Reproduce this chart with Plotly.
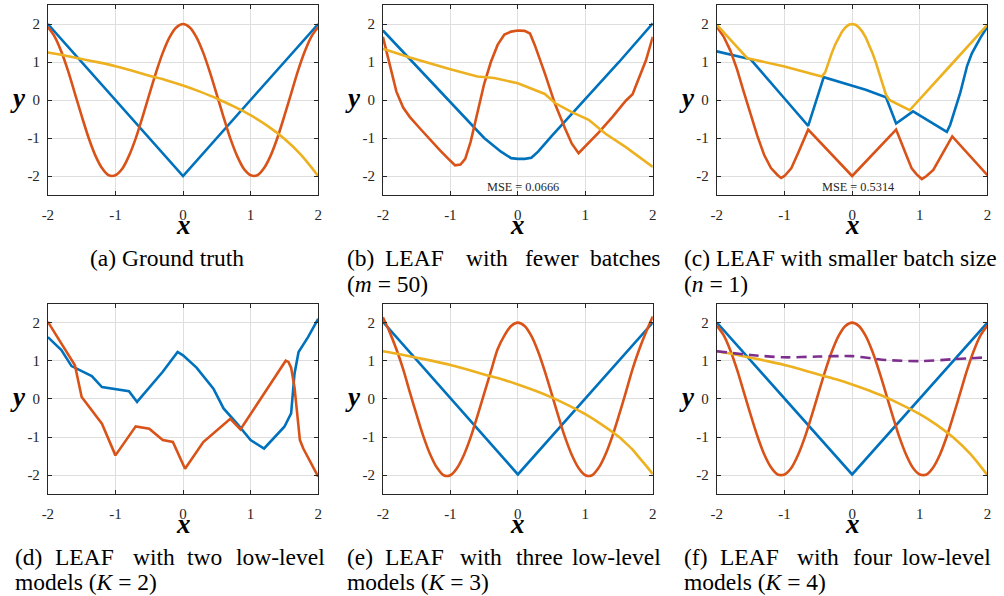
import plotly.graph_objects as go

W, H = 1004, 596
BLUE, ORANGE, YELLOW, PURPLE = "#0072BD", "#D95319", "#EDB120", "#7E2F8E"

# ---------------- data ----------------
# (a) ground truth
gt_blue_x = [-2, 0, 2]
gt_blue_y = [2.0, -2.0, 2.0]
gt_orange_x = [-2.0, -1.9, -1.8, -1.7, -1.6, -1.5, -1.4, -1.3, -1.2, -1.1, -1.0, -0.9, -0.8, -0.7, -0.6,
               -0.5, -0.4, -0.3, -0.2, -0.1, 0.0, 0.1, 0.2, 0.3, 0.4, 0.5, 0.6, 0.7, 0.8, 0.9, 1.0,
               1.1, 1.2, 1.3, 1.4, 1.5, 1.6, 1.7, 1.8, 1.9, 2.0]
gt_orange_y = [1.92, 1.67, 1.27, 0.76, 0.17, -0.42, -0.98, -1.45, -1.79, -1.98, -1.98, -1.81, -1.47, -1.01, -0.45,
               0.14, 0.72, 1.24, 1.65, 1.91, 2.00, 1.91, 1.65, 1.24, 0.72, 0.14, -0.45, -1.01, -1.47, -1.81, -1.98,
               -1.98, -1.79, -1.45, -0.98, -0.42, 0.17, 0.76, 1.27, 1.67, 1.92]
gt_yellow_x = [-2.0, -1.75, -1.5, -1.25, -1.0, -0.75, -0.5, -0.25, 0.0, 0.25, 0.5, 0.75, 1.0, 1.25, 1.5, 1.75, 2.0]
gt_yellow_y = [1.25, 1.17, 1.08, 0.99, 0.89, 0.77, 0.64, 0.52, 0.38, 0.22, 0.04, -0.17, -0.40, -0.68, -1.02, -1.45, -2.00]

# (b) fewer batches
b_blue_x = [-2.0, -1.5, -1.0, -0.5, -0.25, -0.1, 0.0, 0.1, 0.2, 0.3, 0.5, 1.0, 1.5, 2.0]
b_blue_y = [1.83, 0.88, -0.05, -1.0, -1.36, -1.53, -1.55, -1.55, -1.52, -1.36, -0.95, 0.02, 1.0, 2.02]
b_orange_x = [-2.0, -1.9, -1.8, -1.7, -1.6, -1.45, -1.3, -1.15, -1.0, -0.93, -0.85, -0.78, -0.7, -0.6, -0.5,
              -0.4, -0.3, -0.2, -0.1, 0.0, 0.1, 0.18, 0.25, 0.4, 0.55, 0.7, 0.8, 0.9, 1.0, 1.2, 1.4, 1.6,
              1.7, 1.8, 1.9, 2.0]
b_orange_y = [1.66, 0.9, 0.22, -0.2, -0.45, -0.75, -1.05, -1.33, -1.6, -1.72, -1.7, -1.55, -1.1, -0.33, 0.42,
              1.0, 1.45, 1.72, 1.8, 1.83, 1.82, 1.75, 1.45, 0.7, -0.1, -0.75, -1.15, -1.4, -1.22, -0.85, -0.45,
              -0.02, 0.15, 0.6, 1.05, 1.66]
b_yellow_x = [-2.0, -1.6, -1.0, -0.6, -0.35, 0.0, 0.4, 0.55, 0.8, 1.05, 1.3, 1.6, 2.0]
b_yellow_y = [1.35, 1.12, 0.81, 0.62, 0.58, 0.44, 0.16, -0.08, -0.32, -0.52, -0.89, -1.24, -1.76]
b_mse = "MSE = 0.0666"

# (c) smaller batch size
c_blue_x = [-2.0, -1.5, -1.0, -0.65, -0.42, 0.0, 0.2, 0.5, 0.65, 0.9, 1.4, 1.45, 1.6, 1.7, 1.77, 1.9, 2.0]
c_blue_y = [1.28, 1.07, 0.04, -0.68, 0.6, 0.38, 0.27, 0.07, -0.62, -0.3, -0.84, -0.65, 0.2, 0.9, 1.23, 1.65, 1.93]
c_orange_x = [-2.0, -1.9, -1.8, -1.7, -1.6, -1.5, -1.4, -1.3, -1.2, -1.1, -1.05, -1.0, -0.9, -0.8, -0.65,
              0.0, 0.65, 0.8, 0.88, 0.95, 1.03, 1.1, 1.2, 1.48, 2.0]
c_orange_y = [1.92, 1.67, 1.3, 0.8, 0.2, -0.38, -0.95, -1.45, -1.79, -1.98, -2.05, -2.0, -1.8, -1.4, -0.78,
              -2.0, -0.78, -1.45, -1.8, -1.95, -2.08, -2.0, -1.84, -0.96, -1.98]
c_yellow_x = [-2.0, -1.55, -1.0, -0.45, -0.4, -0.35, -0.3, -0.25, -0.2, -0.15, -0.1, -0.05, 0.0, 0.05, 0.1,
              0.15, 0.2, 0.25, 0.3, 0.35, 0.4, 0.45, 0.5, 0.55, 0.85, 1.5, 2.0]
c_yellow_y = [1.98, 1.1, 0.88, 0.62, 0.72, 0.99, 1.24, 1.46, 1.65, 1.8, 1.91, 1.98, 2.0, 1.98, 1.91,
              1.8, 1.65, 1.46, 1.24, 0.99, 0.72, 0.44, 0.14, 0.0, -0.27, 1.0, 1.98]
c_mse = "MSE = 0.5314"

# (d) K = 2
d_blue_x = [-2.0, -1.8, -1.65, -1.5, -1.35, -1.2, -1.05, -0.8, -0.68, -0.5, -0.3, -0.08, 0.0, 0.2, 0.45,
            0.6, 0.8, 1.0, 1.2, 1.5, 1.6, 1.65, 1.71, 1.85, 2.0]
d_blue_y = [1.62, 1.28, 0.86, 0.73, 0.6, 0.31, 0.27, 0.2, -0.08, 0.3, 0.71, 1.23, 1.14, 0.82, 0.27,
            -0.25, -0.65, -1.08, -1.3, -0.73, -0.38, 0.66, 1.23, 1.62, 2.1]
d_orange_x = [-2.0, -1.6, -1.5, -1.35, -1.2, -1.0, -0.7, -0.5, -0.3, -0.15, 0.03, 0.3, 0.7, 0.85, 1.52,
              1.56, 1.6, 1.65, 1.7, 1.73, 1.78, 2.0]
d_orange_y = [2.02, 0.88, 0.05, -0.3, -0.65, -1.48, -0.72, -0.78, -1.08, -1.13, -1.83, -1.13, -0.52, -0.8, 1.0,
              0.97, 0.82, 0.3, -0.6, -1.08, -1.3, -2.04]

# (e) K = 3
e_blue_x = [-2, 0, 2]
e_blue_y = [2.02, -1.98, 2.0]
e_orange_x = gt_orange_x
e_orange_y = [2.14, 1.75, 1.3, 0.78, 0.17, -0.42, -0.98, -1.45, -1.8, -2.0, -2.0, -1.81, -1.47, -1.01, -0.45,
              0.14, 0.72, 1.3, 1.66, 1.91, 2.00, 1.91, 1.65, 1.24, 0.72, 0.14, -0.45, -1.01, -1.47, -1.81, -2.0,
              -2.0, -1.8, -1.45, -0.98, -0.42, 0.17, 0.78, 1.3, 1.75, 2.16]
e_yellow_x = [-2.0, -1.75, -1.5, -1.25, -1.0, -0.75, -0.5, -0.25, 0.0, 0.25, 0.5, 0.75, 1.0, 1.25, 1.5, 1.6,
              1.7, 1.8, 1.9, 2.0]
e_yellow_y = [1.25, 1.17, 1.08, 0.99, 0.89, 0.77, 0.64, 0.52, 0.38, 0.22, 0.04, -0.17, -0.40, -0.68, -1.0, -1.16,
              -1.33, -1.54, -1.75, -1.97]

# (f) K = 4
f_blue_x = [-2, 0, 2]
f_blue_y = [2.0, -1.98, 2.0]
f_purple_x = [-2.0, -1.5, -1.0, -0.5, 0.0, 0.3, 0.5, 1.0, 1.5, 2.0]
f_purple_y = [1.25, 1.15, 1.09, 1.11, 1.12, 1.06, 1.02, 0.99, 1.04, 1.09]

x_ticks = [-2, -1, 0, 1, 2]
x_ticktext = ["-2", "-1", "0", "1", "2"]
y_ticks = [-2, -1, 0, 1, 2]
y_ticktext = ["-2", "-1", "0", "1", "2"]

# ---------------- layout geometry (pixels) ----------------
panels = [  # left, right, top, bottom
    (42.3, 315.3, 5, 195),
    (380.7, 653.3, 5, 195),
    (718, 991.3, 5, 195),
    (42.3, 315.3, 303.5, 494.3),
    (380.7, 653.3, 303.5, 494.3),
    (718, 991.3, 303.5, 494.3),
]

fig = go.Figure()

def add_line(i, xs, ys, color, shape="linear", dash="solid", smooth=None):
    ax = "" if i == 1 else str(i)
    line = dict(color=color, width=2.6, shape=shape, dash=dash)
    if smooth is not None:
        line["smoothing"] = smooth
    fig.add_trace(go.Scatter(x=xs, y=ys, mode="lines", line=line, xaxis="x" + ax, yaxis="y" + ax,
                             showlegend=False, hoverinfo="skip"))

# panel a
add_line(1, gt_blue_x, gt_blue_y, BLUE)
add_line(1, gt_orange_x, gt_orange_y, ORANGE, "spline", smooth=0.8)
add_line(1, gt_yellow_x, gt_yellow_y, YELLOW, "spline", smooth=0.8)
# panel b
add_line(2, b_blue_x, b_blue_y, BLUE)
add_line(2, b_orange_x, b_orange_y, ORANGE)
add_line(2, b_yellow_x, b_yellow_y, YELLOW)
# panel c
add_line(3, c_blue_x, c_blue_y, BLUE)
add_line(3, c_orange_x, c_orange_y, ORANGE)
add_line(3, c_yellow_x, c_yellow_y, YELLOW)
# panel d
add_line(4, d_blue_x, d_blue_y, BLUE)
add_line(4, d_orange_x, d_orange_y, ORANGE)
# panel e
add_line(5, e_blue_x, e_blue_y, BLUE)
add_line(5, e_orange_x, e_orange_y, ORANGE, "spline", smooth=0.8)
add_line(5, e_yellow_x, e_yellow_y, YELLOW, "spline", smooth=0.6)
# panel f
add_line(6, f_blue_x, f_blue_y, BLUE)
add_line(6, gt_orange_x, gt_orange_y, ORANGE, "spline", smooth=0.8)
add_line(6, gt_yellow_x, gt_yellow_y, YELLOW, "spline", smooth=0.8)
add_line(6, f_purple_x, f_purple_y, PURPLE, "spline", dash="10px,6px", smooth=0.8)

AXC = "#262626"
TICKFONT = dict(family="Liberation Serif", size=15, color=AXC)
layout = dict(width=W, height=H, margin=dict(l=0, r=0, t=0, b=0),
              paper_bgcolor="white", plot_bgcolor="white", showlegend=False)

for i, (l, r, t, b) in enumerate(panels, start=1):
    ax = "" if i == 1 else str(i)
    common = dict(showline=True, linecolor=AXC, linewidth=1, mirror="ticks", ticks="inside",
                  ticklen=4, tickcolor=AXC, tickwidth=1, showgrid=True, gridcolor="#dedede",
                  gridwidth=1, zeroline=False, tickfont=TICKFONT, fixedrange=True)
    layout["xaxis" + ax] = dict(domain=[l / W, r / W], range=[-2, 2], tickvals=x_ticks,
                                ticktext=x_ticktext, anchor="y" + ax, ticklabelstandoff=6, **common)
    layout["yaxis" + ax] = dict(domain=[1 - b / H, 1 - t / H], range=[-2.5, 2.5], tickvals=y_ticks,
                                ticktext=y_ticktext, anchor="x" + ax, ticklabelstandoff=4, **common)

fig.update_layout(**layout)

ann = []
CAP = dict(family="Liberation Serif", size=23.5, color="black")
LAB = dict(family="Liberation Serif", size=27, color="black")

def txt(x, y, s, font, xanchor="center", yanchor="middle"):
    ann.append(dict(x=x / W, y=1 - y / H, xref="paper", yref="paper", text=s, showarrow=False,
                    font=font, xanchor=xanchor, yanchor=yanchor))

# axis labels
for (l, r, t, b) in panels:
    txt((l + r) / 2, b + 30, "<b><i>x</i></b>", LAB)
    txt(l - 30, (t + b) / 2 - 2, "<b><i>y</i></b>", LAB)

# MSE labels
ann.append(dict(x=0.08, y=-2.28, xref="x2", yref="y2", text=b_mse, showarrow=False,
                font=dict(family="Liberation Serif", size=12.3, color=AXC)))
ann.append(dict(x=0.08, y=-2.28, xref="x3", yref="y3", text=c_mse, showarrow=False,
                font=dict(family="Liberation Serif", size=12.3, color=AXC)))

# captions (justified word by word)
R1, R2 = 258, 284
R3, R4 = 557, 582
txt(162.5, R1, "(a) Ground truth", CAP)

def justified(words, lefts, right, y):
    for w, x in zip(words[:-1], lefts):
        txt(x, y, w, CAP, xanchor="left")
    txt(right, y, words[-1], CAP, xanchor="right")

justified(["(b)", "LEAF", "with", "fewer", "batches"], [342, 381, 463, 522], 663, R1)
txt(342, R2, "(<i>m</i> = 50)", CAP, xanchor="left")
txt(683, R1, "(c) LEAF with smaller batch size", CAP, xanchor="left")
txt(683, R2, "(<i>n</i> = 1)", CAP, xanchor="left")
justified(["(d)", "LEAF", "with", "two", "low-level"], [7, 47, 126, 181], 324, R3)
txt(7, R4, "models (<i>K</i> = 2)", CAP, xanchor="left")
justified(["(e)", "LEAF", "with", "three", "low-level"], [342, 381, 457, 513], 664, R3)
txt(342, R4, "models (<i>K</i> = 3)", CAP, xanchor="left")
justified(["(f)", "LEAF", "with", "four", "low-level"], [683, 719, 797, 853], 997, R3)
txt(683, R4, "models (<i>K</i> = 4)", CAP, xanchor="left")

fig.update_layout(annotations=ann)
fig.write_html("out.html", config={"displayModeBar": False},
               post_script="document.body.style.margin='0';document.body.style.overflow='hidden';")
